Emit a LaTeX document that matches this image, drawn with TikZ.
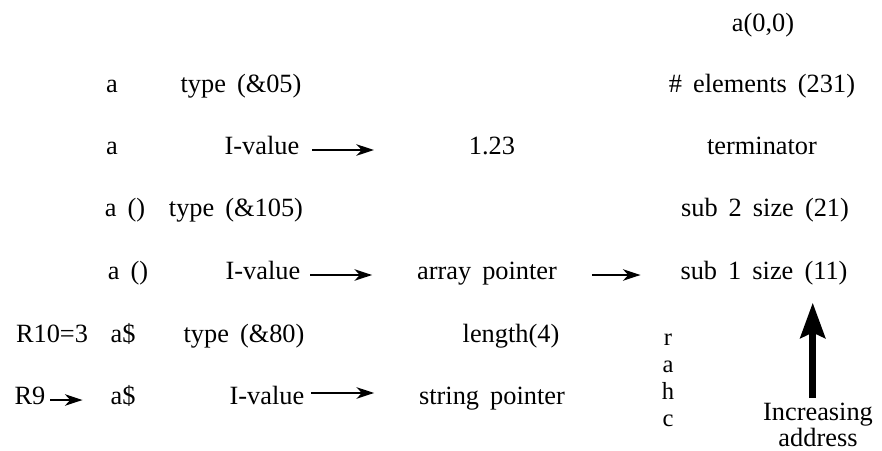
\documentclass[tikz,border=0pt]{standalone}
\usepackage{fontspec}
\setmainfont{Liberation Serif}
\usetikzlibrary{arrows.meta}
\newcommand{\widesp}{\spaceskip=.42em plus .1em\relax}

\begin{document}
\begin{tikzpicture}[x=0.02cm,y=-0.02cm,
  every node/.style={inner sep=0pt,outer sep=0pt,text height=1.5ex,text depth=.4ex,
    font={\fontsize{15}{18}\selectfont\widesp}},
  ptr/.style={-{Stealth[length=10pt,width=6.5pt,inset=3pt]},line width=1.3pt},
  wide/.style={-{Stealth[length=20pt,width=14pt,inset=3pt]},line width=4pt}]
\useasboundingbox (0,0) rectangle (882,450);
% variable blocks (left)
\node (nm1) at (112,88) {a};
\node (ty1) at (241,88) {type (\&05)};
\node (nm2) at (112,150) {a};
\node (lv2) at (262,150) {I-value};
\node (val2) at (492,150) {1.23};
\node (nm3) at (125,212) {a ()};
\node (ty3) at (236,212) {type (\&105)};
\node (nm4) at (128,275) {a ()};
\node (lv4) at (263,275) {I-value};
\node (aptr) at (487,275) {array pointer};
\node (reg10) at (52,338) {R10=3};
\node (nm5) at (123,338) {a\$};
\node (ty5) at (244,338) {type (\&80)};
\node (len) at (511,338) {length(4)};
\node (reg9) at (30,400) {R9};
\node (nm6) at (123,400) {a\$};
\node (lv6) at (267,400) {I-value};
\node (sptr) at (492,400) {string pointer};
\node[align=center,text height=,text depth=,font={\fontsize{14}{15.3}\selectfont}] (chars) at (668,380) {r\\a\\h\\c};
% array block (right)
\node (hdr) at (763,27) {a(0,0)};
\node (el) at (762,88) {\# elements (231)};
\node (term) at (762,150) {terminator};
\node (sub2) at (765,212) {sub 2 size (21)};
\node (sub1) at (764,275) {sub 1 size (11)};
\node[align=center,text height=,text depth=,font={\fontsize{15}{14.7}\selectfont}] (inc) at (818,425) {Increasing\\address};
% pointers
\draw[ptr,shorten <=.26cm,shorten >=1.9cm] (lv2.east) -- (val2.west);
\draw[ptr,shorten <=.2cm,shorten >=.9cm] (lv4.east) -- (aptr.west);
\draw[ptr,shorten <=.7cm,shorten >=.8cm] (aptr.east) -- (sub1.west);
\draw[ptr,shorten <=.1cm,shorten >=.56cm] (reg9.east) -- (nm6.west);
\draw[ptr,shorten <=.14cm,shorten >=.9cm] ([yshift=4pt]lv6.east) -- ([yshift=4pt]sptr.west);
\draw[wide,shorten <=.1cm,shorten >=.4cm] ([xshift=-3pt]inc.north) -- ([xshift=-3pt]inc.north |- sub1.south);
\end{tikzpicture}
\end{document}
